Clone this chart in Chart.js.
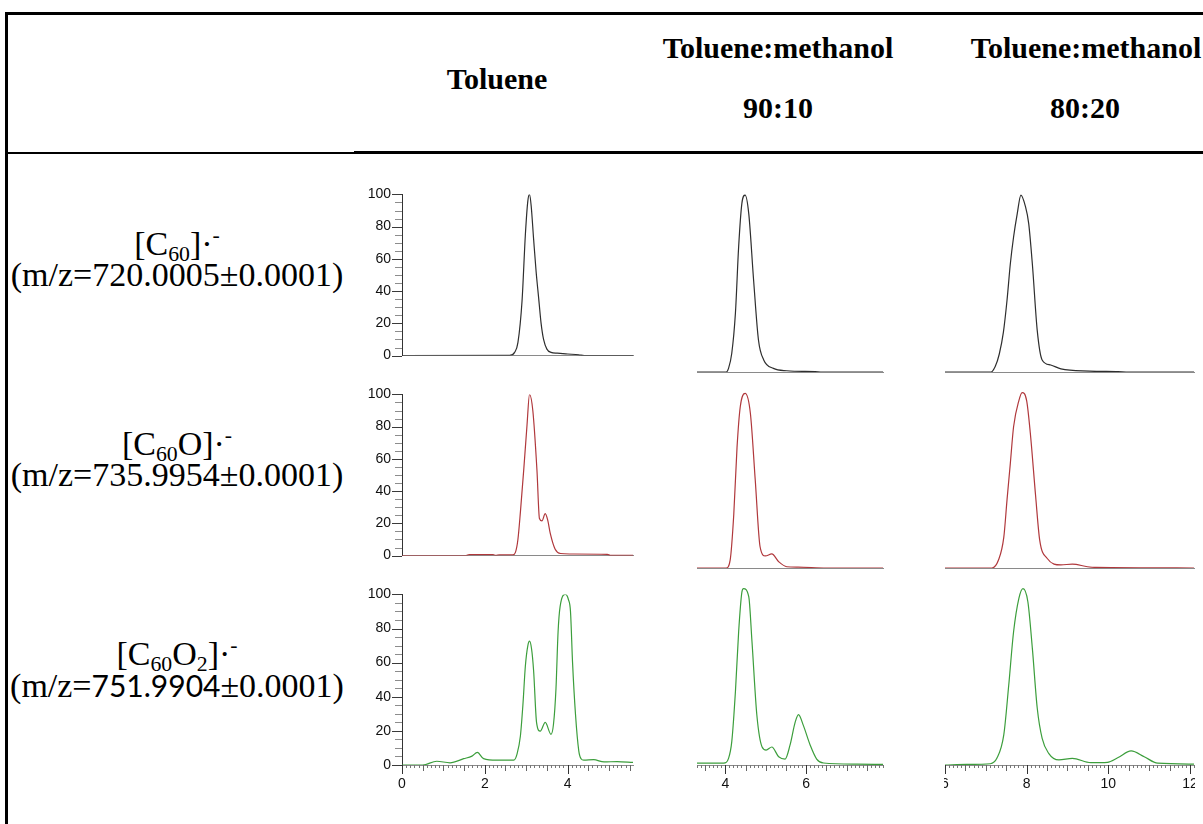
<!DOCTYPE html>
<html><head><meta charset="utf-8">
<script src="https://cdn.jsdelivr.net/npm/chart.js@4.4.1/dist/chart.umd.min.js"></script>
<style>
html,body{margin:0;padding:0;background:#fff;}
body{width:1203px;height:824px;position:relative;overflow:hidden;}
.t{position:absolute;white-space:nowrap;text-align:center;color:#000;font-family:"Liberation Serif","Times New Roman",serif;width:400px;}
.h{font-weight:bold;font-size:30px;line-height:30px;}
.r{font-size:34px;line-height:34px;}
.sub{font-size:0.64em;line-height:0;vertical-align:-0.26em;}
.sup{font-size:0.64em;line-height:0;vertical-align:0.6em;}
.sans{font-family:Lato,"Open Sans",sans-serif;font-size:30px;}
.box{position:absolute;overflow:hidden;}
.box canvas{position:absolute;top:0;}
.ln{position:absolute;background:#000;}
</style></head><body>

<div class="ln" style="left:5px;top:12px;width:1198px;height:3px;"></div>
<div class="ln" style="left:5px;top:12px;width:3px;height:812px;"></div>
<div class="ln" style="left:5px;top:152px;width:349px;height:2px;"></div>
<div class="ln" style="left:354px;top:151px;width:849px;height:3px;"></div>

<div id="labels"></div>

<script>
// ---- text ----
const colHeaders = [["Toluene"], ["Toluene:methanol", "90:10"], ["Toluene:methanol", "80:20"]];
const rowIons = ['[C<span class="sub">60</span>]·<span class="sup">-</span>',
                 '[C<span class="sub">60</span>O]·<span class="sup">-</span>',
                 '[C<span class="sub">60</span>O<span class="sub">2</span>]·<span class="sup">-</span>'];
const rowMz = ['(m/z=720.0005±0.0001)', '(m/z=735.9954±0.0001)', '(m/z=<span class="sans">751.9904</span>±0.0001)'];

// ---- x tick labels (even integers only) ----
const xTickStep = 2;

// ---- data: Toluene ----
const tolC60X = [0, 2.6, 2.72, 2.8, 2.9, 2.98, 3.04, 3.08, 3.12, 3.18, 3.24, 3.30, 3.36, 3.42, 3.5, 3.6, 3.75, 4.0, 4.27, 4.4, 5.58];
const tolC60Y = [0, 0.2, 2, 8, 34, 75, 96, 100, 93, 72, 52, 36, 20, 10, 4, 2, 1.5, 1, 0.5, 0, 0];
const tolC60OX = [0, 1.55, 1.62, 2.2, 2.26, 2.35, 2.68, 2.74, 2.8, 2.86, 2.94, 3.02, 3.08, 3.16, 3.26, 3.32, 3.38, 3.46, 3.52, 3.58, 3.70, 3.83, 4.05, 4.96, 5.04, 5.58];
const tolC60OY = [0, 0, 0.6, 0.6, 0.1, 0.5, 0.5, 2, 10, 27, 53, 81, 100, 90, 53, 23, 21.5, 26, 22, 14, 4, 1.3, 1, 0.8, 0.1, 0.1];
const tolC60O2X = [0, 0.5, 0.84, 1.16, 1.49, 1.69, 1.82, 1.97, 2.29, 2.70, 2.78, 2.86, 2.92, 2.98, 3.04, 3.08, 3.13, 3.18, 3.25, 3.34, 3.46, 3.60, 3.66, 3.72, 3.77, 3.82, 3.95, 4.02, 4.07, 4.12, 4.19, 4.27, 4.33, 4.39, 4.63, 4.88, 5.2, 5.58];
const tolC60O2Y = [0, 0, 2.2, 1.3, 3.7, 5.2, 7.4, 3.7, 2.8, 2.8, 6.5, 17, 35, 58, 70, 72.6, 68, 55, 25, 19.8, 25, 18, 24, 45, 78, 93, 100, 97, 90, 60, 30, 8.3, 3.5, 2.8, 3.1, 1.8, 2, 1.5];

// ---- data: Toluene:methanol 90:10 ----
const m90C60X = [3.3, 4.02, 4.08, 4.16, 4.25, 4.33, 4.41, 4.49, 4.58, 4.70, 4.82, 4.95, 5.19, 5.52, 6.22, 6.4, 7.9];
const m90C60Y = [0, 0, 2, 10.4, 32.6, 69.6, 93.7, 98.3, 88, 51, 17.8, 6.7, 2, 0.7, 0.2, 0, 0];
const m90C60OX = [3.3, 4.02, 4.12, 4.21, 4.29, 4.37, 4.49, 4.62, 4.74, 4.86, 4.99, 5.15, 5.32, 5.52, 5.8, 6.5, 7.9];
const m90C60OY = [0, 0, 4.4, 30, 67, 89.6, 97, 86, 49, 11.8, 6.7, 7.8, 3.5, 0.7, 0.5, 0, 0];
const m90C60O2X = [3.3, 3.96, 4.08, 4.16, 4.25, 4.33, 4.41, 4.45, 4.58, 4.66, 4.78, 4.91, 5.01, 5.15, 5.32, 5.48, 5.60, 5.73, 5.81, 5.93, 6.10, 6.26, 6.43, 7.25, 7.9];
const m90C60O2Y = [1, 1, 3.7, 13, 40.7, 74, 96, 98, 93.5, 68.5, 27.8, 10, 8.3, 10, 4.6, 3.3, 11, 24, 28, 22, 11, 3.3, 1.1, 0.5, 0.3];

// ---- data: Toluene:methanol 80:20 ----
const m80C60X = [6, 7.13, 7.23, 7.33, 7.43, 7.52, 7.60, 7.68, 7.77, 7.86, 7.97, 8.05, 8.14, 8.26, 8.38, 8.59, 8.84, 9.54, 10.24, 10.5, 12.1];
const m80C60Y = [0, 0, 3, 10, 22, 40, 60, 75, 88, 98.3, 92, 82.6, 60, 23, 6.7, 3.9, 1.7, 0.5, 0.2, 0, 0];
const m80C60OX = [6, 7.15, 7.31, 7.44, 7.52, 7.60, 7.68, 7.81, 7.89, 8.0, 8.09, 8.22, 8.32, 8.50, 8.84, 9.12, 9.49, 9.7, 12.1];
const m80C60OY = [0, 0, 4.4, 17, 38, 58, 78.5, 93, 97.4, 93, 75, 40, 15.5, 5.4, 1.7, 2.2, 0.7, 0.3, 0];
const m80C60O2X = [6, 6.53, 7.11, 7.27, 7.44, 7.56, 7.68, 7.81, 7.91, 8.03, 8.14, 8.26, 8.38, 8.54, 8.79, 9.12, 9.57, 9.98, 10.23, 10.56, 10.88, 11.21, 12.11];
const m80C60O2Y = [0, 0.3, 0.7, 3.7, 16.7, 44, 74, 92.6, 98, 90.7, 64.8, 31.5, 14.8, 6.5, 2.8, 3.7, 1.3, 1.5, 4, 7.8, 4.6, 1, 0.5];

// ---- x ranges per column ----
const xMin = [0, 3.3, 6];
const xMax = [5.58, 7.9, 12.1];
const rowColors = ['#2e2e2e', '#b0383c', '#3c9e3c'];

// ---- layout (not data) ----
const L = {
  areaLeft: [402, 697, 945], areaWidth: [231, 186, 249],
  yW: [62, 0, 0], padL: [0, 20, 20], padR: 20,
  clipL: [340, 677, 944], clipR: [653, 923, 1195],
  top100: [[185, 385, 585], [192, 388, 585], [192, 388, 585]],
  h100: 180
};

// text placement
const lab = document.getElementById('labels');
function addText(cls, html, cx, baseline, off) {
  const d = document.createElement('div');
  d.className = 't ' + cls;
  d.innerHTML = html;
  d.style.left = (cx - 200) + 'px';
  d.style.top = (baseline - off) + 'px';
  lab.appendChild(d);
}
addText('h', colHeaders[0][0], 497, 89, 25);
addText('h', colHeaders[1][0], 778, 58, 25);
addText('h', colHeaders[1][1], 778, 118, 25);
addText('h', colHeaders[2][0], 1086, 58, 25);
addText('h', colHeaders[2][1], 1085, 118, 25);
const rowBase = [255, 455, 665];
for (let r = 0; r < 3; r++) {
  addText('r', rowIons[r], 177, rowBase[r], 28);
  addText('r', rowMz[r], 177, rowBase[r] + 31, 28);
}

const tickPlugin = {
  id: 'minorTicks',
  afterDraw(chart, args, opts) {
    const ctx = chart.ctx, xs = chart.scales.x, ys = chart.scales.y;
    ctx.save();
    ctx.lineWidth = 1;
    if (opts.yTicks) {
      for (let v = 0; v <= 100; v += 5) {
        const py = Math.round(ys.getPixelForValue(v)) + 0.5;
        const major = v % 20 === 0;
        const len = major ? 10 : 7;
        ctx.strokeStyle = major ? '#3a3a3a' : '#8c8c8c';
        ctx.beginPath(); ctx.moveTo(xs.left - len, py); ctx.lineTo(xs.left, py); ctx.stroke();
      }
    }
    if (opts.xTicks) {
      const a = Math.ceil(xs.min * 10 - 1e-6), b = Math.floor(xs.max * 10 + 1e-6);
      for (let k = a; k <= b; k++) {
        const px = Math.round(xs.getPixelForValue(k / 10)) + 0.5;
        const lab2 = k % 20 === 0, half = k % 5 === 0;
        const len = lab2 ? 9 : (half ? 6 : 3);
        ctx.strokeStyle = lab2 ? '#333' : (half ? '#666' : '#777');
        ctx.beginPath(); ctx.moveTo(px, xs.top); ctx.lineTo(px, xs.top + len); ctx.stroke();
      }
    }
    ctx.restore();
  }
};

const tickFont = {family: '"Liberation Sans", Arial, sans-serif', size: 14};

function panel(col, row, xsArr, ysArr) {
  const showY = col === 0, showX = row === 2;
  const xAxisH = showX ? 30 : 0;
  const padTop = 10, padBot = 10;
  const cw = L.yW[col] + L.padL[col] + L.areaWidth[col] + L.padR;
  const chh = padTop + L.h100 + xAxisH + padBot;
  const canvasLeft = L.areaLeft[col] - L.padL[col] - L.yW[col];
  const box = document.createElement('div');
  box.className = 'box';
  box.style.left = L.clipL[col] + 'px';
  box.style.top = (L.top100[col][row] - padTop) + 'px';
  box.style.width = (L.clipR[col] - L.clipL[col]) + 'px';
  box.style.height = chh + 'px';
  const cv = document.createElement('canvas');
  cv.width = cw; cv.height = chh;
  cv.style.width = cw + 'px'; cv.style.height = chh + 'px';
  cv.style.left = (canvasLeft - L.clipL[col]) + 'px';
  box.appendChild(cv);
  document.body.appendChild(box);
  const data = xsArr.map((x, i) => ({x: x, y: ysArr[i]}));
  new Chart(cv, {
    type: 'line',
    data: {datasets: [{data: data, borderColor: rowColors[row], borderWidth: 1.2, pointRadius: 0,
      fill: false, cubicInterpolationMode: 'monotone'}]},
    options: {
      responsive: false, animation: false, devicePixelRatio: 1,
      layout: {padding: {top: padTop, bottom: padBot, left: L.padL[col], right: L.padR}},
      plugins: {legend: {display: false}, tooltip: {enabled: false},
        minorTicks: {yTicks: showY, xTicks: showX}},
      scales: {
        x: {type: 'linear', position: 'bottom', min: xMin[col], max: xMax[col],
          grid: {display: false, drawTicks: false}, border: {display: true, color: '#8a8a8a', width: 1},
          ticks: {display: showX, stepSize: xTickStep, includeBounds: false, padding: 11, color: '#111', font: tickFont,
            maxRotation: 0, autoSkip: false,
            callback: v => (Math.abs(v - Math.round(v)) < 1e-6 && Math.round(v) % 2 === 0) ? String(Math.round(v)) : ''},
          afterFit: s => { s.height = xAxisH; }},
        y: {type: 'linear', position: 'left', min: 0, max: 100, display: showY,
          grid: {display: false, drawTicks: false}, border: {display: true, color: '#333', width: 1},
          ticks: {stepSize: 20, padding: 11, color: '#111', font: tickFont},
          afterFit: s => { s.width = L.yW[col]; }}
      }
    },
    plugins: [tickPlugin]
  });
}

panel(0, 0, tolC60X, tolC60Y);
panel(0, 1, tolC60OX, tolC60OY);
panel(0, 2, tolC60O2X, tolC60O2Y);
panel(1, 0, m90C60X, m90C60Y);
panel(1, 1, m90C60OX, m90C60OY);
panel(1, 2, m90C60O2X, m90C60O2Y);
panel(2, 0, m80C60X, m80C60Y);
panel(2, 1, m80C60OX, m80C60OY);
panel(2, 2, m80C60O2X, m80C60O2Y);
</script>
</body></html>
